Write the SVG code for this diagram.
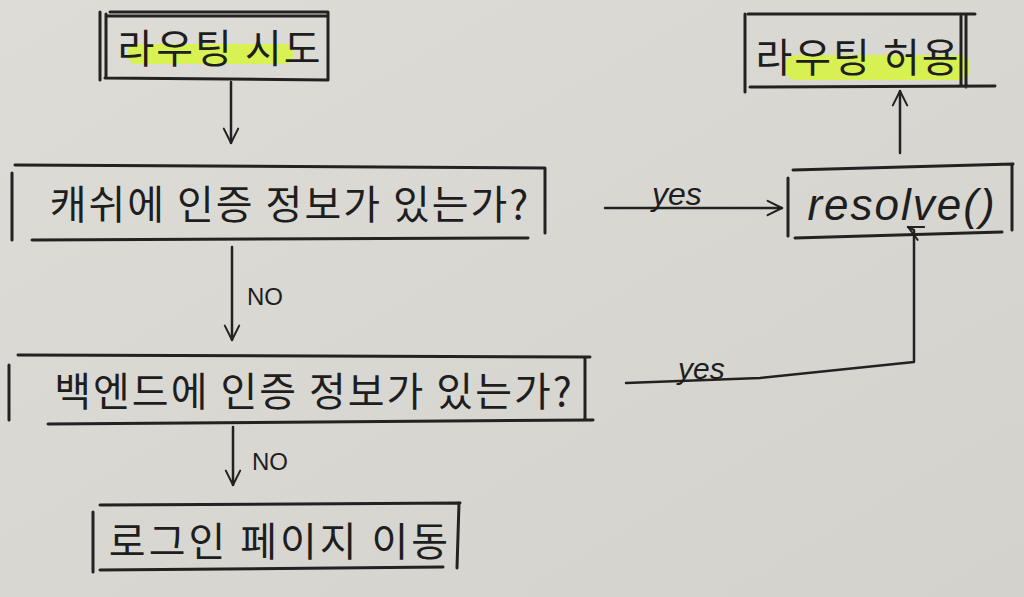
<svg xmlns="http://www.w3.org/2000/svg" width="1024" height="597" viewBox="0 0 1024 597">
<defs>
<marker id="arr" viewBox="0 0 20 20" refX="18" refY="10" markerWidth="18" markerHeight="18" markerUnits="userSpaceOnUse" orient="auto">
<path d="M2,2 L18,10 L2,18" fill="none" stroke="#222" stroke-width="2.2" stroke-linecap="round" stroke-linejoin="round"/>
</marker>
<linearGradient id="paper" x1="0" y1="0" x2="1" y2="1">
<stop offset="0" stop-color="#dddcd7"/>
<stop offset="1" stop-color="#d3d2cd"/>
</linearGradient>
</defs>
<style>
.box{fill:none;stroke:#222;stroke-width:3;stroke-linecap:round}
.edge{fill:none;stroke:#222;stroke-width:2.5;stroke-linecap:round;stroke-linejoin:round}
.hl{fill:#d7f53c;opacity:0.85}
.kt{font-family:"Noto Sans CJK KR","Noto Sans",sans-serif;font-size:40px;fill:#1e1e1e}
.lt{font-family:"Liberation Sans","DejaVu Sans",sans-serif;font-style:italic;fill:#1e1e1e}
.no{font-family:"Liberation Sans","DejaVu Sans",sans-serif;font-size:24px;fill:#1e1e1e}
</style>
<rect width="1024" height="597" fill="url(#paper)"/>

<g id="node-routing-attempt">
<rect class="hl" x="128" y="44" width="165" height="20" rx="8"/>
<path class="box" d="M110,12 L328,12 M105,78 L328,80 M100,12 L100,80 M106,14 L106,78 M328,12 L328,80 M108,16 L326,16"/>
<text class="kt" x="220" y="63" text-anchor="middle" font-size="38" letter-spacing="2">라우팅 시도</text>
</g>

<g id="node-cache-check">
<path class="box" d="M15,165 L545,168 M32,240 L528,238 M12,173 L12,240 M545,168 L545,233"/>
<text class="kt" x="290" y="219" text-anchor="middle" letter-spacing="2">캐쉬에 인증 정보가 있는가?</text>
</g>

<g id="node-backend-check">
<path class="box" d="M18,355 L590,357 M48,424 L593,420 M9,365 L9,420 M585,358 L585,420"/>
<text class="kt" x="314" y="406" text-anchor="middle" letter-spacing="2">백엔드에 인증 정보가 있는가?</text>
</g>

<g id="node-login-page">
<path class="box" d="M100,505 L460,503 M100,570 L443,567 M93,512 L93,572 M459,503 L457,568"/>
<text class="kt" x="280" y="556" text-anchor="middle" font-size="37" letter-spacing="3">로그인 페이지 이동</text>
</g>

<g id="node-resolve">
<path class="box" d="M793,170 L1013,164 M795,238 L1002,232 M788,178 L788,236 M1012,164 L1012,230"/>
<text class="lt" x="902" y="220" text-anchor="middle" font-size="44" letter-spacing="2">resolve()</text>
</g>

<g id="node-routing-allowed">
<rect class="hl" x="785" y="55" width="185" height="25" rx="10"/>
<path class="box" d="M748,14 L975,14 M750,87 L995,86 M745,14 L745,92 M961,16 L961,85 M966,14 L966,87"/>
<text class="kt" x="858" y="72" text-anchor="middle" font-size="37" letter-spacing="2">라우팅 허용</text>
</g>

<g id="connectors">
<path class="edge" d="M231,82 L231,143" marker-end="url(#arr)"/>
<path class="edge" d="M232,247 L232,340" marker-end="url(#arr)"/>
<path class="edge" d="M233,427 L233,485" marker-end="url(#arr)"/>
<path class="edge" d="M605,208 L782,208" marker-end="url(#arr)"/>
<path class="edge" d="M900,153 L900,91" marker-end="url(#arr)"/>
<path class="edge" d="M626,383 L760,378 L914,362 L914,230 L908,227" marker-end="url(#arr)"/>
<text class="no" x="247" y="305">NO</text>
<text class="no" x="252" y="470">NO</text>
<text class="lt" x="652" y="205" font-size="32">yes</text>
<text class="lt" x="678" y="379" font-size="30">yes</text>
</g>
</svg>
